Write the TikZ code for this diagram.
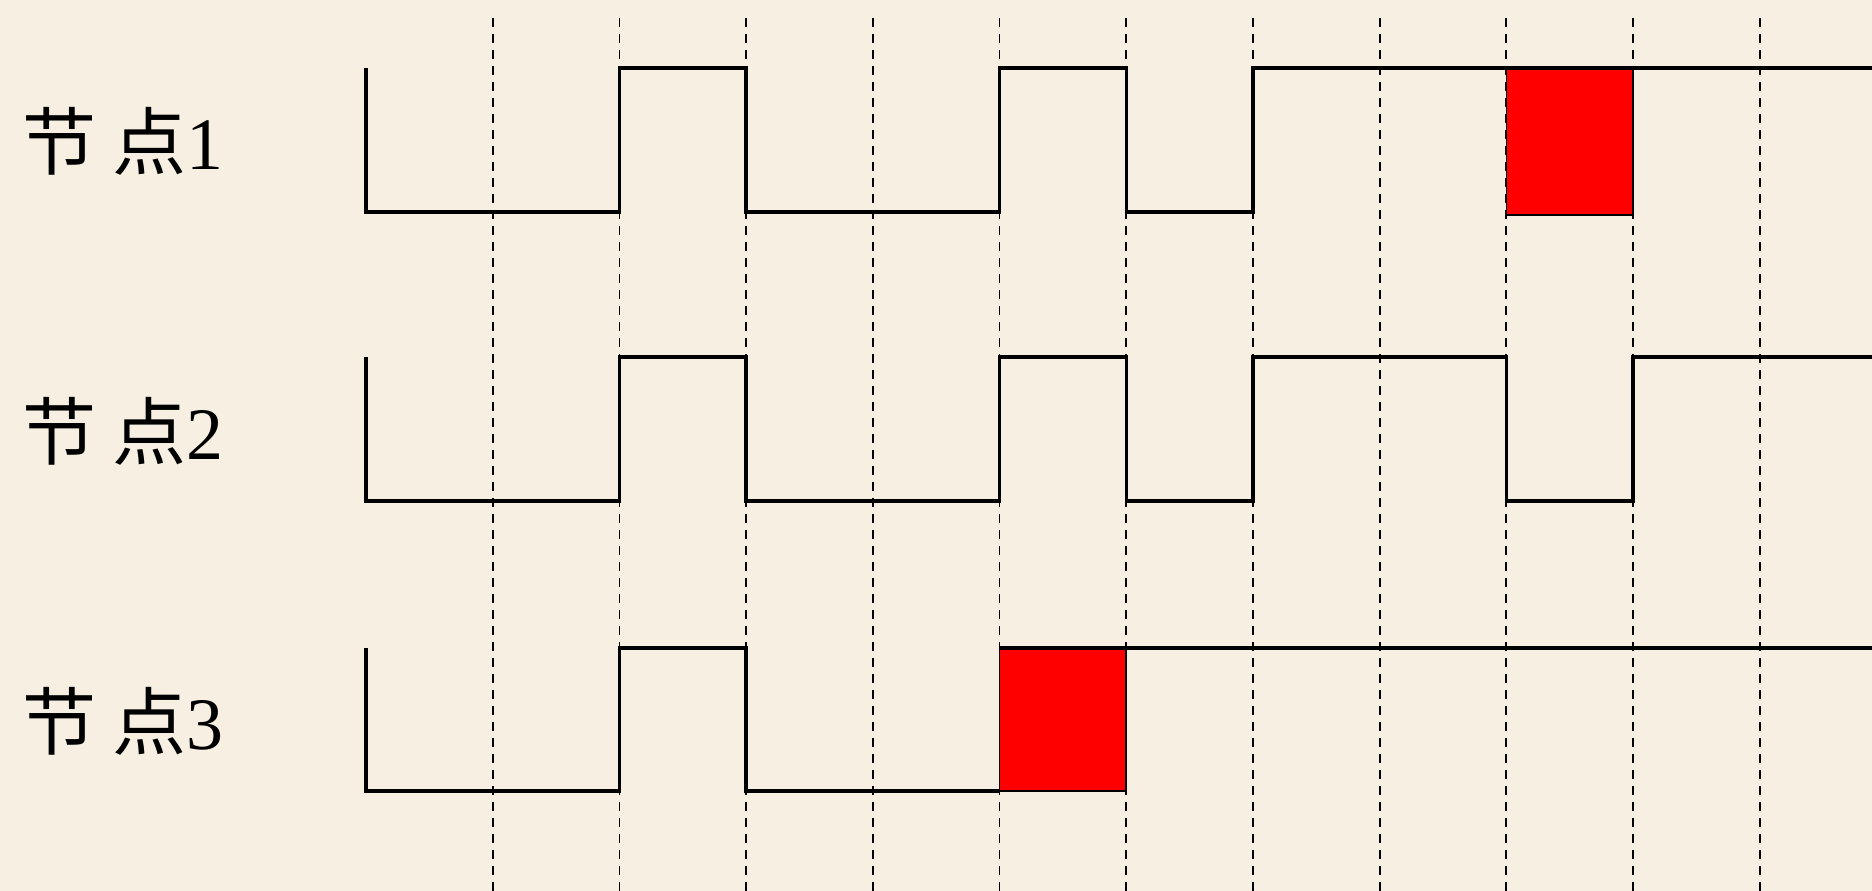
\documentclass[tikz,border=0pt]{standalone}
\usepackage{fontspec}
\setmainfont{Liberation Serif}
\newfontfamily\cjk{Noto Sans CJK SC}
\usepackage{tikz}
\definecolor{paper}{RGB}{247,240,226}

\begin{document}
\begin{tikzpicture}[x=1pt, y=-1pt,
    sig/.style={draw, line width=3.4pt},
    tick/.style={draw, dashed, line width=1.8pt, dash pattern=on 9pt off 7pt},
    slot/.style={draw, fill=red, line width=1.5pt},
    lbl/.style={anchor=west, inner sep=0pt, font=\fontsize{74}{74}\selectfont}]

    \fill[paper] (0,0) rectangle (1872,891);
    \useasboundingbox (0,0) rectangle (1872,891);

    \node[lbl] (n1) at (22,141) {{\cjk 节}\hspace{16pt}{\cjk 点}1};
    \node[lbl] (n2) at (22,431) {{\cjk 节}\hspace{16pt}{\cjk 点}2};
    \node[lbl] (n3) at (22,721) {{\cjk 节}\hspace{16pt}{\cjk 点}3};

    \begin{scope}[x=126.7pt, xshift=366pt]
    \foreach \k in {1,...,11}
        \draw[tick] (\k,18) -- (\k,891);

    % collisions
    \draw[slot] (9,68) rectangle (10,215);
    \draw[slot] (5,648) rectangle (6,791);

    \draw[sig] (0,68) |- (2,212) |- (3,68) |- (5,212) |- (6,68) |- (7,212) |- (12,68);
    \draw[sig] (0,357) |- (2,501) |- (3,357) |- (5,501) |- (6,357) |- (7,501) |- (9,357) |- (10,501) |- (12,357);
    \draw[sig] (0,648) |- (2,791) |- (3,648) |- (5,791);
    \draw[sig] (5,648) -- (12,648);
    \end{scope}
\end{tikzpicture}
\end{document}
